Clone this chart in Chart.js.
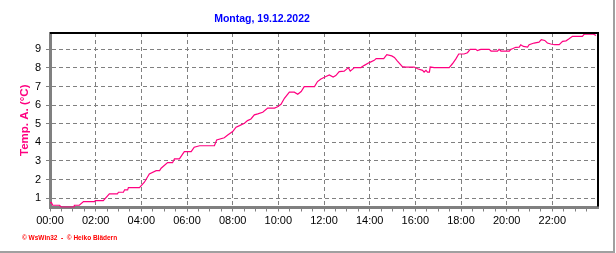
<!DOCTYPE html>
<html>
<head>
<meta charset="utf-8">
<script src="https://cdn.jsdelivr.net/npm/chart.js@4"></script>
<style>
  body { margin: 0; background: #fff; }
  #wrap { width: 616px; height: 253px; }
</style>
</head>
<body>
<div id="wrap"><canvas id="tempChart" width="616" height="253"></canvas></div>
<script>
// Minutes since midnight and outside temperature (°C)
const minutes = [0, 4, 7, 25, 30, 63, 64, 77, 88, 117, 119, 140, 156, 177, 180, 193, 196, 204, 206, 235,
  248, 261, 279, 288, 292, 309, 322, 327, 340, 353, 371, 379, 393, 432, 438, 458, 467, 480, 489, 498,
  511, 519, 528, 537, 546, 559, 572, 590, 598, 607, 616, 629, 642, 651, 660, 668, 695, 703, 712, 725,
  734, 744, 751, 760, 773, 784, 789, 800, 817, 826, 839, 852, 857, 877, 885, 898, 905, 913, 926, 935,
  957, 966, 979, 983, 988, 992, 997, 999, 1010, 1049, 1058, 1067, 1074, 1088, 1097, 1104, 1119, 1123, 1132, 1154,
  1159, 1176, 1180, 1185, 1207, 1211, 1215, 1224, 1233, 1237, 1244, 1255, 1259, 1272, 1285, 1291, 1300, 1307, 1316, 1325,
  1338, 1347, 1356, 1364, 1373, 1399, 1404, 1428, 1435];
const temps = [0.76, 0.76, 0.62, 0.62, 0.52, 0.52, 0.62, 0.62, 0.82, 0.82, 0.87, 0.87, 1.23, 1.23, 1.32, 1.32, 1.45, 1.45, 1.57, 1.57,
  1.86, 2.30, 2.48, 2.48, 2.61, 2.91, 2.91, 3.11, 3.11, 3.50, 3.50, 3.74, 3.82, 3.82, 4.13, 4.25, 4.40, 4.58, 4.82, 4.90,
  5.03, 5.17, 5.26, 5.48, 5.53, 5.62, 5.84, 5.84, 5.92, 6.05, 6.37, 6.70, 6.70, 6.59, 6.73, 7.00, 7.00, 7.27, 7.41, 7.54,
  7.63, 7.51, 7.59, 7.80, 7.83, 8.02, 7.83, 8.02, 8.02, 8.14, 8.29, 8.41, 8.50, 8.50, 8.72, 8.65, 8.57, 8.37, 8.07, 8.05,
  8.05, 7.96, 7.87, 7.78, 7.87, 7.78, 7.78, 8.05, 8.02, 8.02, 8.24, 8.50, 8.75, 8.75, 8.82, 9.00, 9.00, 8.93, 9.00, 9.00,
  8.91, 8.91, 9.00, 8.91, 8.91, 9.00, 9.03, 9.11, 9.12, 9.25, 9.16, 9.12, 9.25, 9.34, 9.39, 9.52, 9.48, 9.34, 9.29, 9.25,
  9.25, 9.43, 9.46, 9.57, 9.70, 9.70, 9.82, 9.82, 9.75];

// ticks: every 30 min on x (labels every 2 h), whole degrees on y
const xTicks = [];
for (let m = 0; m < 1440; m += 30) xTicks.push(m);
const yTicks = [1, 2, 3, 4, 5, 6, 7, 8, 9];

const chartTitle = 'Montag, 19.12.2022';
const yTitle = 'Temp. A. (°C)';
const footer = '\u00A9 WsWin32  -  \u00A9 Heiko Blädern';

const gray = '#808080';

function hhmm(m) {
  const h = Math.floor(m / 60), mm = m % 60;
  return String(h).padStart(2, '0') + ':' + String(mm).padStart(2, '0');
}

// title, footer, plot frame and picture edge
const decorations = {
  id: 'decorations',
  afterDraw(chart) {
    const ctx = chart.ctx;
    const ca = chart.chartArea;
    ctx.save();
    ctx.fillStyle = '#000';
    ctx.fillRect(ca.left, ca.top - 1, ca.right - ca.left + 1, 2);
    ctx.fillRect(ca.right - 1, ca.top - 1, 2, ca.bottom - ca.top);

    ctx.textAlign = 'center';
    ctx.textBaseline = 'middle';
    ctx.fillStyle = '#0000ff';
    ctx.font = 'bold 10.5px "Liberation Sans", Arial, sans-serif';
    ctx.fillText(chartTitle, 262, 19);

    ctx.textAlign = 'left';
    ctx.fillStyle = '#ff0000';
    ctx.font = 'bold 6.5px "Liberation Sans", Arial, sans-serif';
    ctx.fillText(footer, 22, 238);

    ctx.fillStyle = '#a0a0a0';
    ctx.fillRect(613, 0, 2, 253);
    ctx.fillRect(0, 251, 615, 2);
    ctx.restore();
  }
};

const ctx = document.getElementById('tempChart').getContext('2d');
new Chart(ctx, {
  type: 'line',
  data: {
    datasets: [{
      data: minutes.map((m, i) => ({ x: m, y: temps[i] })),
      borderColor: '#ff0080',
      borderWidth: 1.2,
      pointRadius: 0,
      tension: 0,
      fill: false
    }]
  },
  options: {
    responsive: false,
    animation: false,
    events: [],
    layout: { padding: { left: 0, right: 18, top: 33, bottom: 0 } },
    plugins: {
      legend: { display: false },
      title: { display: false },
      tooltip: { enabled: false }
    },
    scales: {
      x: {
        type: 'linear',
        min: 0,
        max: 1440,
        afterBuildTicks: scale => { scale.ticks = xTicks.map(v => ({ value: v })); },
        afterFit: scale => { scale.height = 45.5; },
        ticks: {
          autoSkip: false,
          maxRotation: 0,
          padding: 3,
          color: '#000',
          font: { family: '"Liberation Sans", Arial, sans-serif', size: 11 },
          callback: v => (v % 120 === 0 ? hhmm(v) : '')
        },
        grid: {
          color: c => (c.tick && c.tick.value % 120 === 0 ? gray : 'rgba(0,0,0,0)'),
          tickColor: gray,
          tickLength: 4,
          tickBorderDash: [],
          lineWidth: 1
        },
        border: { color: gray, width: 3, dash: [4, 3] }
      },
      y: {
        min: 0.5,
        max: 9.88,
        afterBuildTicks: scale => { scale.ticks = yTicks.map(v => ({ value: v })); },
        afterFit: scale => { scale.width = 50; },
        ticks: {
          padding: 5,
          color: '#000',
          font: { family: '"Liberation Sans", Arial, sans-serif', size: 11 },
          callback: v => String(v)
        },
        grid: {
          color: gray,
          tickColor: gray,
          tickLength: 4,
          tickBorderDash: [],
          lineWidth: 1
        },
        border: { color: gray, width: 3, dash: [4, 3] },
        title: {
          display: true,
          text: yTitle,
          color: '#ff0080',
          padding: { top: 18, bottom: 0 },
          font: { family: '"Liberation Sans", Arial, sans-serif', size: 11.5, weight: 'bold' }
        }
      }
    }
  },
  plugins: [decorations]
});
</script>
</body>
</html>
